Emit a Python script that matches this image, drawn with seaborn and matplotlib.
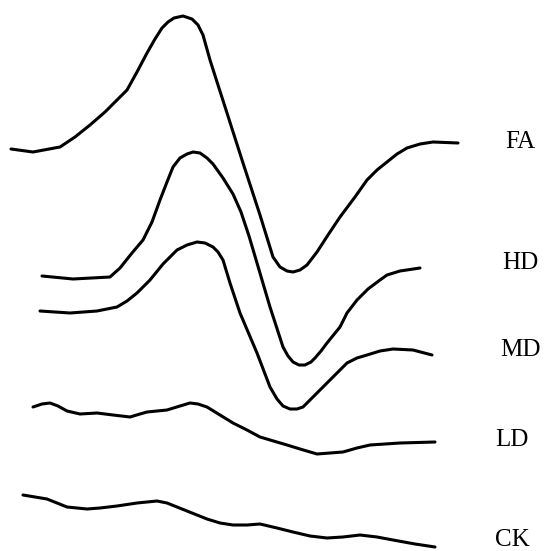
import pandas as pd
import matplotlib
matplotlib.use("Agg")
import matplotlib.pyplot as plt
import seaborn as sns

# traced curves (x, y in picture units, y grows downward)
fa_x = [11, 33, 60, 75, 90, 105, 117, 127, 137, 147, 155, 162, 168, 174, 183, 192, 198, 203, 210, 218, 227, 243, 260, 273, 280, 287, 293, 300, 307, 317, 328, 340, 355, 367, 377, 387, 397, 407, 420, 433, 458]
fa_y = [149, 152, 147, 137, 125, 112, 100, 90, 72, 53, 39, 28, 22, 18, 16, 19, 25, 35, 60, 85, 113, 163, 215, 257, 267, 271, 272, 270, 265, 252, 235, 217, 197, 180, 170, 162, 154, 148, 144, 142, 143]

hd_x = [42, 73, 110, 120, 132, 143, 152, 160, 167, 173, 180, 187, 193, 200, 207, 213, 223, 233, 241, 249, 257, 270, 283, 288, 293, 299, 305, 311, 315, 321, 327, 340, 347, 357, 368, 380, 387, 400, 420]
hd_y = [276, 279, 277, 268, 253, 240, 222, 200, 182, 167, 158, 154, 152, 153, 158, 164, 178, 194, 212, 236, 263, 307, 347, 356, 362, 365, 365, 362, 358, 351, 343, 327, 313, 300, 289, 280, 275, 271, 268]

md_x = [40, 70, 97, 117, 127, 137, 150, 163, 177, 187, 197, 205, 213, 218, 223, 230, 240, 257, 270, 277, 283, 290, 297, 303, 307, 320, 340, 347, 357, 367, 380, 393, 413, 432]
md_y = [311, 313, 311, 307, 301, 293, 280, 264, 250, 245, 242, 243, 247, 252, 260, 283, 313, 353, 387, 399, 406, 409, 409, 407, 403, 390, 370, 363, 358, 355, 351, 349, 350, 355]

ld_x = [33, 42, 50, 58, 67, 80, 97, 113, 130, 140, 147, 167, 180, 190, 198, 207, 220, 233, 247, 260, 287, 300, 317, 330, 343, 357, 370, 385, 400, 435]
ld_y = [407, 404, 403, 406, 411, 414, 413, 415, 417, 414, 412, 410, 406, 403, 404, 407, 415, 423, 430, 437, 445, 449, 454, 453, 452, 448, 445, 444, 443, 442]

ck_x = [23, 35, 47, 57, 67, 87, 100, 117, 137, 157, 167, 177, 192, 207, 220, 233, 247, 260, 277, 293, 310, 327, 343, 360, 377, 393, 415, 435]
ck_y = [495, 497, 499, 503, 507, 509, 508, 506, 503, 501, 503, 507, 513, 519, 523, 525, 525, 524, 528, 532, 536, 538, 537, 535, 537, 540, 544, 547]

labels = ["FA", "HD", "MD", "LD", "CK"]
label_x = [520, 520, 520, 512, 512]
label_y = [142, 263, 350, 440, 540]

curves = {"FA": (fa_x, fa_y), "HD": (hd_x, hd_y), "MD": (md_x, md_y),
          "LD": (ld_x, ld_y), "CK": (ck_x, ck_y)}

sns.set_style("white")
plt.rcParams["font.family"] = ["Liberation Serif", "DejaVu Serif"]

fig = plt.figure(figsize=(5.45, 5.51), dpi=100)
ax = fig.add_axes([0, 0, 1, 1])

for name, (xs, ys) in curves.items():
    df = pd.DataFrame({"x": xs, "y": ys})
    sns.lineplot(data=df, x="x", y="y", ax=ax, color="black", lw=2.2,
                 sort=False, solid_joinstyle="round", solid_capstyle="round")

for lab, lx, ly in zip(labels, label_x, label_y):
    ax.text(lx, ly, lab, fontsize=18, ha="center", va="center", color="black")

ax.set_xlim(0, 545)
ax.set_ylim(551, 0)
ax.axis("off")

fig.savefig("out.png", dpi=100, facecolor="white")
